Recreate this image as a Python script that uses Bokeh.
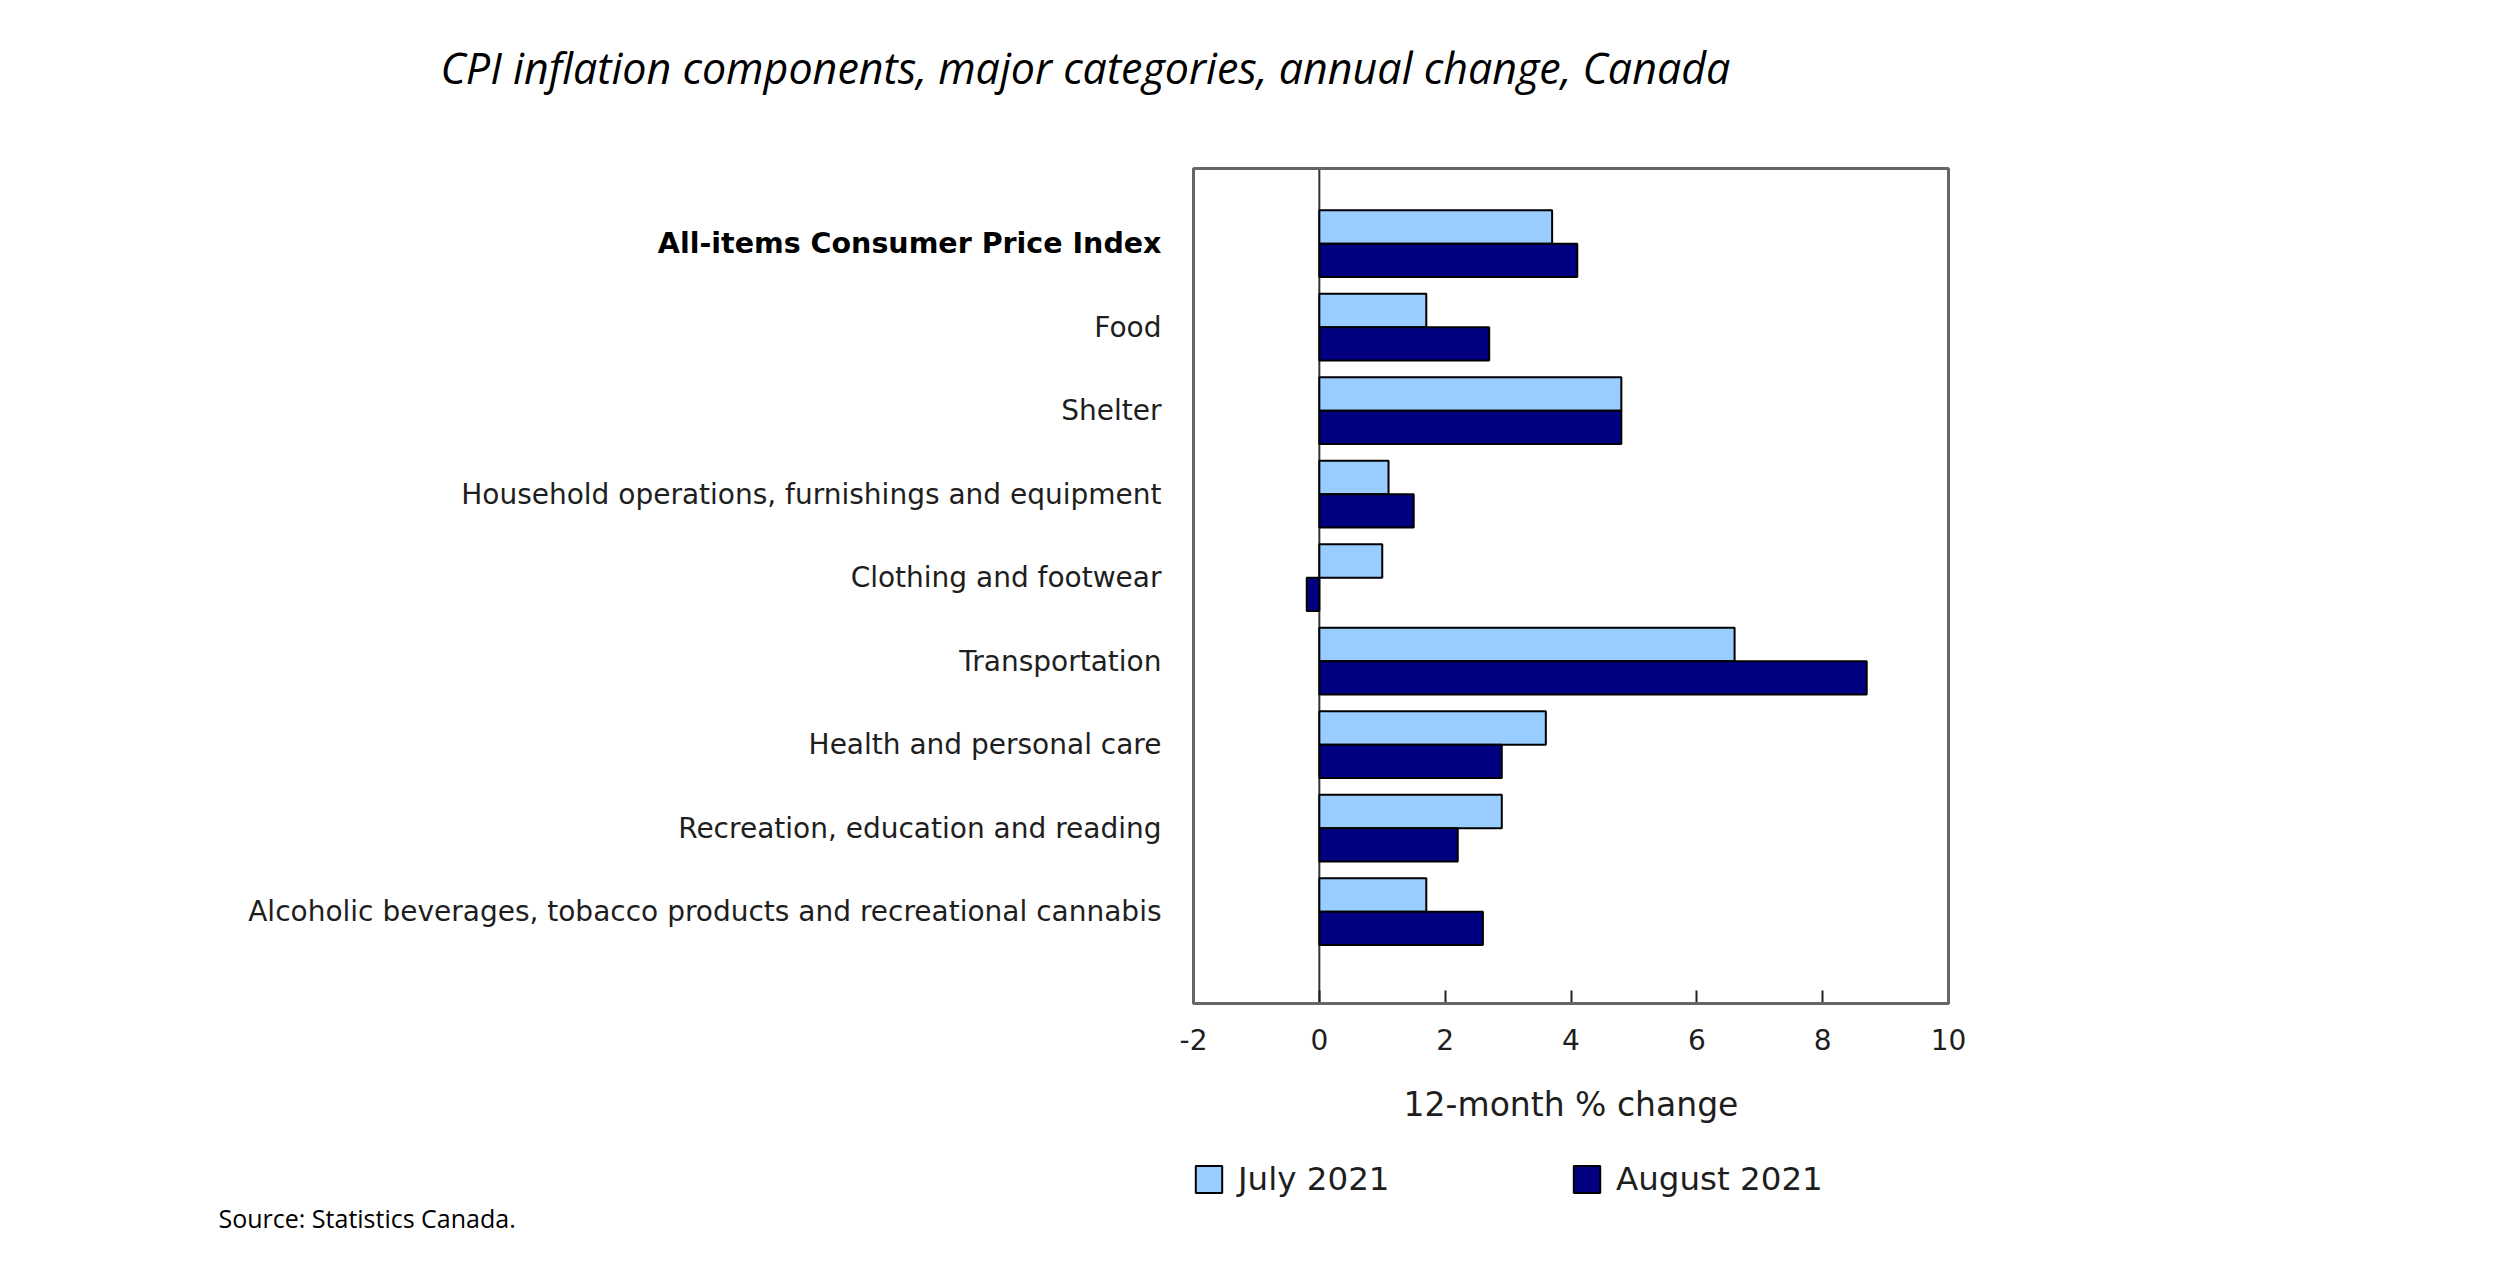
from bokeh.plotting import figure
from bokeh.models import Range1d, FixedTicker, Label, Legend, LegendItem, BoxAnnotation
from bokeh.embed import file_html
from bokeh.resources import INLINE
import numpy as np

categories = [
    "All-items Consumer Price Index",
    "Food",
    "Shelter",
    "Household operations, furnishings and equipment",
    "Clothing and footwear",
    "Transportation",
    "Health and personal care",
    "Recreation, education and reading",
    "Alcoholic beverages, tobacco products and recreational cannabis",
]
july_2021 = [3.7, 1.7, 4.8, 1.1, 1.0, 6.6, 3.6, 2.9, 1.7]
august_2021 = [4.1, 2.7, 4.8, 1.5, -0.2, 8.7, 2.9, 2.2, 2.6]
x_ticks = [-2, 0, 2, 4, 6, 8, 10]
series_names = ["July 2021", "August 2021"]
title_text = "CPI inflation components, major categories, annual change, Canada"
source_text = "Source: Statistics Canada."
x_axis_title = "12-month % change"

# ---- layout constants (pixels on the canvas) ----
W, H = 2496, 1260
BOX_L, BOX_R, BOX_T, BOX_B = 1193, 1948, 168, 1003
X_MIN, X_MAX = -2, 10
Y_TOP, Y_BOT = -0.9, len(categories) - 1 + 1.1

ppu_x = (BOX_R - BOX_L) / (X_MAX - X_MIN)
ppu_y = (BOX_B - BOX_T) / (Y_BOT - Y_TOP)
x_start = X_MIN - BOX_L / ppu_x
x_end = X_MAX + (W - BOX_R) / ppu_x
y_end = Y_TOP - BOX_T / ppu_y          # canvas top
y_start = Y_BOT + (H - BOX_B) / ppu_y  # canvas bottom

LIGHT = "#99CCFF"
DARK = "#000080"
TEXT = "#1e1e1e"
GREY = "#666666"

idx = np.arange(len(categories))

p = figure(width=W, height=H, output_backend="svg", toolbar_location=None,
           x_range=Range1d(x_start, x_end), y_range=Range1d(y_start, y_end),
           min_border=0, min_border_left=0, min_border_right=0,
           min_border_top=0, min_border_bottom=0)
p.background_fill_color = "white"
p.border_fill_color = "white"
p.outline_line_color = None
p.xgrid.grid_line_color = None
p.ygrid.grid_line_color = None

# zero line inside the plot box
p.segment(x0=[0], y0=[Y_TOP], x1=[0], y1=[Y_BOT], line_color="#333333", line_width=2)

r1 = p.hbar(y=idx - 0.2, height=0.4, left=0, right=july_2021,
            fill_color=LIGHT, line_color="black", line_width=2)
r2 = p.hbar(y=idx + 0.2, height=0.4, left=0, right=august_2021,
            fill_color=DARK, line_color="black", line_width=2)

# plot box
p.add_layout(BoxAnnotation(left=X_MIN, right=X_MAX, top=Y_TOP, bottom=Y_BOT,
                           fill_color=None, fill_alpha=0,
                           line_color=GREY, line_alpha=1.0, line_width=3,
                           level="annotation"))

# x axis
xa = p.xaxis[0]
xa.fixed_location = Y_BOT
xa.bounds = (X_MIN, X_MAX)
xa.ticker = FixedTicker(ticks=x_ticks)
xa.major_label_overrides = {t: str(t) for t in x_ticks}
xa.minor_tick_line_color = None
xa.major_tick_in = 13
xa.major_tick_out = 0
xa.major_tick_line_color = "#222222"
xa.major_tick_line_width = 2
xa.axis_line_color = GREY
xa.axis_line_width = 3
xa.major_label_text_font = "DejaVu Sans"
xa.major_label_text_font_size = "28px"
xa.major_label_text_color = TEXT
xa.major_label_standoff = 25
xa.axis_label = x_axis_title
xa.axis_label_text_font = "DejaVu Sans"
xa.axis_label_text_font_size = "33px"
xa.axis_label_text_font_style = "normal"
xa.axis_label_text_color = TEXT
xa.axis_label_standoff = 32

# y axis (category labels)
ya = p.yaxis[0]
ya.fixed_location = X_MIN
ya.bounds = (Y_TOP, Y_BOT)
ya.ticker = FixedTicker(ticks=[int(i) for i in idx])
overrides = {int(i): c for i, c in zip(idx, categories)}
overrides[0] = ""
ya.major_label_overrides = overrides
ya.axis_line_color = None
ya.major_tick_line_color = None
ya.minor_tick_line_color = None
ya.major_tick_in = 0
ya.major_tick_out = 0
ya.major_label_text_font = "DejaVu Sans"
ya.major_label_text_font_size = "28px"
ya.major_label_text_color = TEXT
ya.major_label_standoff = 32

# bold first category label
p.add_layout(Label(x=X_MIN, y=int(idx[0]), x_offset=-32, text=categories[0],
                   text_align="right", text_baseline="middle",
                   text_font="DejaVu Sans", text_font_size="28.5px",
                   text_font_style="bold", text_color="black"))

# legends
for r, name, xloc in [(r1, series_names[0], 1192), (r2, series_names[1], 1570)]:
    lg = Legend(items=[LegendItem(label=name, renderers=[r])],
                location=(xloc, H - 1198), orientation="horizontal",
                padding=0, margin=0, border_line_color=None,
                background_fill_alpha=0, glyph_width=33, glyph_height=34,
                label_height=34, label_standoff=13,
                label_text_font="DejaVu Sans", label_text_font_size="32.5px",
                label_text_color=TEXT, label_text_baseline="middle")
    p.add_layout(lg, "center")

# title and source
p.add_layout(Label(x=1085, y=H - 67, x_units="screen", y_units="screen",
                   text=title_text, text_align="center", text_baseline="middle",
                   text_font="Open Sans", text_font_size="43px",
                   text_font_style="italic", text_color="black"))
p.add_layout(Label(x=218, y=H - 1217, x_units="screen", y_units="screen",
                   text=source_text, text_align="left", text_baseline="middle",
                   text_font="Open Sans", text_font_size="25px",
                   text_color="black"))

open("out.html", "w").write(file_html(p, INLINE))
